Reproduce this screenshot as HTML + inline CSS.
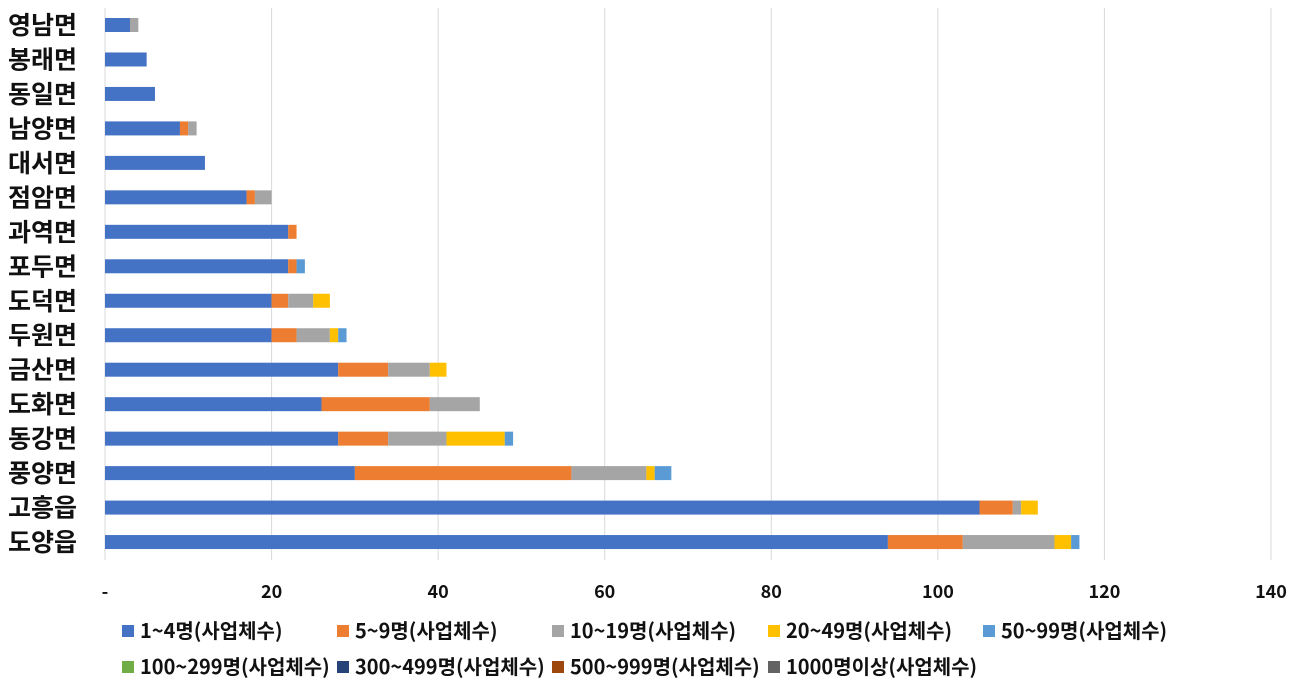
<!DOCTYPE html><html><head><meta charset="utf-8"><style>body{margin:0;background:#fff}text{font-family:"Noto Sans CJK KR","Liberation Sans",sans-serif;fill:#111}</style></head><body>
<svg width="1306" height="692" xmlns="http://www.w3.org/2000/svg" id="s">
<g stroke="#d9d9d9" stroke-width="1">
<line x1="105" y1="8" x2="105" y2="560"/><line x1="271.6" y1="8" x2="271.6" y2="560"/><line x1="438.1" y1="8" x2="438.1" y2="560"/><line x1="604.7" y1="8" x2="604.7" y2="560"/><line x1="771.3" y1="8" x2="771.3" y2="560"/><line x1="937.9" y1="8" x2="937.9" y2="560"/><line x1="1104.4" y1="8" x2="1104.4" y2="560"/><line x1="1271" y1="8" x2="1271" y2="560"/>
</g>
<g font-size="18" font-weight="bold" text-anchor="middle">
<text x="105" y="598">-</text><text x="271.6" y="598">20</text><text x="438.1" y="598">40</text><text x="604.7" y="598">60</text><text x="771.3" y="598">80</text><text x="937.9" y="598">100</text><text x="1104.4" y="598">120</text><text x="1271" y="598">140</text>
</g>
<g id="bars"></g>
<g font-size="20" font-weight="bold">
<rect x="122" y="625" width="12" height="12" fill="#4472c4"/><text x="140" y="638">1~4명(사업체수)</text>
<rect x="337" y="625" width="12" height="12" fill="#ed7d31"/><text x="355" y="638">5~9명(사업체수)</text>
<rect x="552" y="625" width="12" height="12" fill="#a5a5a5"/><text x="570" y="638">10~19명(사업체수)</text>
<rect x="768" y="625" width="12" height="12" fill="#ffc000"/><text x="786" y="638">20~49명(사업체수)</text>
<rect x="983" y="625" width="12" height="12" fill="#5b9bd5"/><text x="1001" y="638">50~99명(사업체수)</text>
<rect x="122" y="661" width="12" height="12" fill="#70ad47"/><text x="140" y="674">100~299명(사업체수)</text>
<rect x="337" y="661" width="12" height="12" fill="#264478"/><text x="355" y="674">300~499명(사업체수)</text>
<rect x="552" y="661" width="12" height="12" fill="#9e480e"/><text x="570" y="674">500~999명(사업체수)</text>
<rect x="768" y="661" width="12" height="12" fill="#636363"/><text x="786" y="674">1000명이상(사업체수)</text>
</g>
</svg>
<script>
var d=[["영남면",[3,0,1]],["봉래면",[5]],["동일면",[6]],["남양면",[9,1,1]],["대서면",[12]],["점암면",[17,1,2]],["과역면",[22,1]],["포두면",[22,1,0,0,1]],["도덕면",[20,2,3,2]],["두원면",[20,3,4,1,1]],["금산면",[28,6,5,2]],["도화면",[26,13,6]],["동강면",[28,6,7,7,1]],["풍양면",[30,26,9,1,2]],["고흥읍",[105,4,1,2]],["도양읍",[94,9,11,2,1]]];
var c=["#4472c4","#ed7d31","#a5a5a5","#ffc000","#5b9bd5"],k=1166/140,h="";
d.forEach(function(r,i){var y=25+i*34.47,x=105;h+='<text x="77" y="'+(y+9)+'" font-size="25" font-weight="bold" text-anchor="end">'+r[0]+'</text>';r[1].forEach(function(v,j){if(v>0){h+='<rect x="'+x+'" y="'+(y-7)+'" width="'+v*k+'" height="14" fill="'+c[j]+'"/>';x+=v*k;}});});
document.getElementById("bars").innerHTML=h;
</script>
</body></html>
